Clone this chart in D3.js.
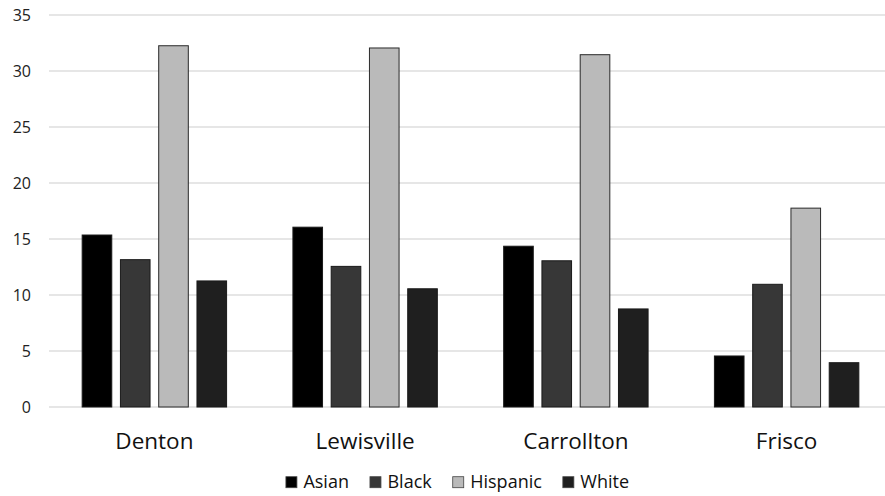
<!DOCTYPE html>
<html><head><meta charset="utf-8">
<script src="https://cdn.jsdelivr.net/npm/d3@7"></script>
<style>html,body{margin:0;padding:0;background:#fff;}svg{display:block;font-family:"Open Sans",sans-serif;}</style>
</head><body>
<svg id="c" width="885" height="496"></svg>
<script>
const categories = ["Denton", "Lewisville", "Carrollton", "Frisco"];
const seriesNames = ["Asian", "Black", "Hispanic", "White"];
const asian    = [15.4, 16.1, 14.4, 4.6];
const black    = [13.2, 12.6, 13.1, 11.0];
const hispanic = [32.3, 32.1, 31.5, 17.8];
const white    = [11.3, 10.6, 8.8, 4.0];
const yTicks = [0, 5, 10, 15, 20, 25, 30, 35];
const seriesColors = ["#000000", "#373737", "#bababa", "#1f1f1f"];

const seriesValues = [asian, black, hispanic, white];
const svg = d3.select("#c");
const W = 885, H = 496;
const m = {left: 49, right: -7, top: 15, bottom: 89};

const x0 = d3.scaleBand().domain(categories).range([m.left, W - m.right]).paddingInner(0.31).paddingOuter(0.155);
const x1 = d3.scaleBand().domain(seriesNames).range([0, x0.bandwidth()]).paddingInner(0.2).paddingOuter(0);
const y = d3.scaleLinear().domain([0, 35]).range([H - m.bottom, m.top]);

// gridlines
svg.append("g").selectAll("line").data(yTicks).join("line")
  .attr("x1", m.left).attr("x2", W)
  .attr("y1", d => y(d)).attr("y2", d => y(d))
  .attr("stroke", "#dedede").attr("stroke-width", 1.5);

// y axis labels
const yAxis = d3.axisLeft(y).tickValues(yTicks).tickSize(0).tickPadding(0);
const ga = svg.append("g").attr("transform", `translate(${m.left - 18},0)`).call(yAxis);
ga.select(".domain").remove();
ga.selectAll("text").attr("font-size", 16).attr("fill", "#222").attr("font-family", "Open Sans");

// bars
const groups = svg.append("g").selectAll("g").data(categories).join("g")
  .attr("transform", d => `translate(${x0(d)},0)`);
groups.selectAll("rect").data((c, ci) => seriesNames.map((s, si) => ({s, si, v: seriesValues[si][ci]})))
  .join("rect")
  .attr("x", d => x1(d.s) + 0.5)
  .attr("width", x1.bandwidth() - 1)
  .attr("y", d => y(d.v) + 0.5)
  .attr("height", d => y(0) - y(d.v) - 0.5)
  .attr("fill", d => seriesColors[d.si])
  .attr("stroke", d => d.si === 2 ? "#2a2a2a" : "#1a1a1a")
  .attr("stroke-width", 1);

// category labels
const xAxis = d3.axisBottom(x0).tickSize(0).tickPadding(0);
const gx = svg.append("g").attr("transform", `translate(0,${y(0)})`).call(xAxis);
gx.select(".domain").remove();
gx.selectAll("text").attr("font-size", 22.5).attr("fill", "#111").attr("font-family", "Open Sans")
  .attr("dy", null).attr("y", 42);

// legend
const leg = svg.append("g");
const items = leg.selectAll("g").data(seriesNames).join("g");
items.append("rect").attr("width", 11).attr("height", 11).attr("y", 476.7)
  .attr("fill", (d, i) => seriesColors[i]).attr("stroke", "#444").attr("stroke-width", 0.8);
items.append("text").text(d => d).attr("x", 17.5).attr("y", 488.3)
  .attr("font-size", 18).attr("fill", "#111");
const gap = 21;
let xpos = 0; const pos = [];
items.each(function () {
  pos.push(xpos);
  const tw = d3.select(this).select("text").node().getComputedTextLength();
  xpos += 17.5 + tw + gap;
});
const total = xpos - gap;
const start = 457.5 - total / 2;
items.attr("transform", (d, i) => `translate(${start + pos[i]},0)`);
</script>
</body></html>
